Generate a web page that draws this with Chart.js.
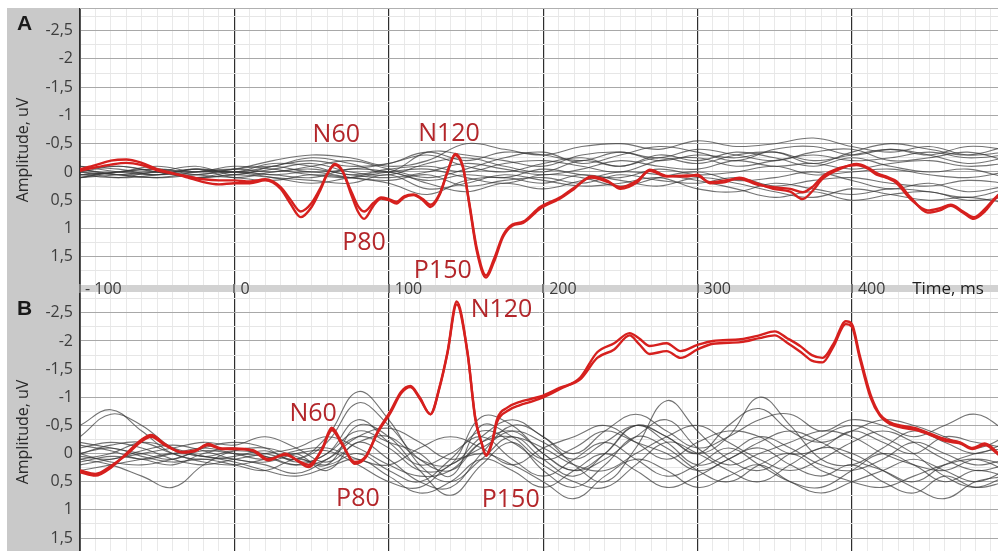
<!DOCTYPE html>
<html>
<head>
<meta charset="utf-8">
<script src="https://cdn.jsdelivr.net/npm/chart.js@4.4.1/dist/chart.umd.min.js"></script>
<style>
  html,body{margin:0;padding:0;background:#fff;}
  #wrap{position:relative;width:998px;height:551px;overflow:hidden;background:#fff;}
  #side{position:absolute;left:7px;top:8px;width:73px;height:543px;background:#c9c9c9;}
  #cB{position:absolute;left:0;top:290px;}
  #cA{position:absolute;left:0;top:0;}
</style>
</head>
<body>
<div id="wrap">
  <div id="side"></div>
  <canvas id="cB" width="998" height="261"></canvas>
  <canvas id="cA" width="998" height="300"></canvas>
</div>
<script>
// ---------------- DATA ----------------
const xTickLabels = ["- 100", "0", "100", "200", "300", "400"];
const xTickValues = [-100, 0, 100, 200, 300, 400];
const xAxisTitle = "Time, ms";
const yAxisTitle = "Amplitude, uV";

// Panel A, red (target) traces
const tRedA = [-100,-90,-80,-70,-60,-50,-40,-30,-20,-10,0,10,20,30,36,43,50,56,60,65,70,75,80,84,90,95,100,105,110,116,122,127,133,138,143,148,152,157,163,168,174,180,187,198,211,220,231,242,250,261,269,280,293,300,308,318,327,338,349,360,368,375,381,392,403,410,416,422,429,438,449,457,464,472,479,486,492,495];
const redA1 = [-0.05,-0.12,-0.2,-0.22,-0.16,-0.05,0.02,0.1,0.18,0.22,0.2,0.2,0.15,0.3,0.55,0.8,0.62,0.3,0.05,-0.14,-0.02,0.35,0.7,0.83,0.6,0.47,0.5,0.56,0.45,0.41,0.5,0.62,0.4,0.0,-0.32,-0.1,0.55,1.4,1.87,1.6,1.15,0.95,0.9,0.65,0.47,0.3,0.08,0.16,0.3,0.18,-0.04,0.07,0.08,0.05,0.2,0.18,0.1,0.2,0.3,0.35,0.48,0.32,0.12,-0.05,-0.14,-0.08,0.02,0.08,0.17,0.45,0.72,0.68,0.6,0.72,0.83,0.7,0.5,0.42];
const redA2 = [-0.02,-0.08,-0.13,-0.16,-0.12,-0.03,0.03,0.08,0.13,0.15,0.15,0.17,0.13,0.27,0.48,0.7,0.55,0.27,0.04,-0.12,-0.01,0.3,0.6,0.7,0.55,0.45,0.48,0.53,0.43,0.4,0.48,0.58,0.38,0.0,-0.3,-0.08,0.52,1.35,1.83,1.55,1.12,0.93,0.88,0.62,0.45,0.28,0.1,0.18,0.27,0.15,-0.02,0.08,0.06,0.07,0.18,0.15,0.12,0.22,0.27,0.3,0.36,0.25,0.08,-0.07,-0.12,-0.06,0.05,0.1,0.2,0.48,0.68,0.64,0.58,0.7,0.8,0.66,0.48,0.4];

// Panel B, red (target) traces
const tRedB = [-100,-90,-80,-70,-60,-54,-45,-34,-25,-17,-8,0,12,22,33,42,48,57,63,70,78,85,93,101,108,114,120,127,133,138,144,151,156,160,163,167,170,177,185,192,200,211,224,235,246,256,262,269,280,289,300,310,328,340,350,358,367,374,381,388,396,400,405,412,418,425,431,441,451,461,470,478,486,495];
const redB1 = [0.33,0.39,0.25,0.0,-0.25,-0.33,-0.17,-0.02,-0.05,-0.17,-0.09,-0.09,-0.05,0.12,0.0,0.15,0.24,-0.1,-0.46,-0.17,0.18,0.07,-0.4,-0.75,-1.1,-1.2,-1.0,-0.7,-1.2,-1.8,-2.7,-1.8,-0.64,-0.2,0.04,-0.2,-0.55,-0.76,-0.86,-0.92,-1.0,-1.15,-1.35,-1.8,-1.96,-2.14,-2.05,-1.91,-1.96,-1.82,-1.93,-2.0,-2.03,-2.1,-2.17,-2.05,-1.9,-1.75,-1.7,-1.95,-2.35,-2.3,-1.75,-1.05,-0.7,-0.55,-0.5,-0.45,-0.35,-0.25,-0.2,-0.1,-0.18,0.0];
const redB2 = [0.3,0.36,0.22,0.02,-0.22,-0.3,-0.15,-0.03,-0.06,-0.15,-0.08,-0.08,-0.06,0.1,0.02,0.14,0.2,-0.08,-0.42,-0.15,0.15,0.05,-0.38,-0.72,-1.07,-1.18,-0.98,-0.7,-1.18,-1.78,-2.65,-1.78,-0.62,-0.2,0.02,-0.22,-0.6,-0.82,-0.92,-0.97,-1.03,-1.17,-1.32,-1.7,-1.85,-2.1,-1.95,-1.77,-1.82,-1.7,-1.85,-1.95,-1.98,-2.05,-2.1,-1.97,-1.8,-1.65,-1.62,-1.9,-2.3,-2.25,-1.7,-1.0,-0.68,-0.52,-0.47,-0.42,-0.33,-0.22,-0.18,-0.08,-0.15,0.02];

// Panel A, grey (other) traces, sampled every 25 ms
const tGreyA = [-100,-75,-50,-25,0,25,50,75,100,125,150,175,200,225,250,275,300,325,350,375,400,425,450,475,500];
const greyA = [
  [0.05,0.0,-0.1,0.0,-0.05,-0.2,-0.3,-0.25,-0.1,-0.2,-0.5,-0.4,-0.3,-0.45,-0.5,-0.4,-0.55,-0.45,-0.5,-0.6,-0.45,-0.35,-0.45,-0.3,-0.35],
  [-0.1,-0.05,0.05,-0.05,0.0,-0.1,-0.25,-0.15,0.0,-0.35,-0.3,-0.2,-0.1,-0.3,-0.35,-0.25,-0.4,-0.3,-0.2,-0.35,-0.4,-0.2,-0.25,-0.35,-0.2],
  [0.1,0.05,0.0,0.1,0.05,-0.05,-0.15,0.0,0.05,-0.15,-0.25,-0.1,0.0,-0.2,-0.1,-0.25,-0.15,-0.3,-0.35,-0.2,-0.3,-0.4,-0.3,-0.15,-0.25],
  [0.0,0.1,0.05,-0.05,0.1,0.0,-0.05,0.05,0.1,0.0,-0.15,-0.05,0.05,-0.05,-0.2,-0.1,-0.05,-0.2,-0.1,-0.15,-0.05,-0.15,-0.2,-0.1,-0.15],
  [-0.05,0.05,0.1,0.05,0.0,0.05,0.1,-0.05,0.0,0.15,0.05,0.1,-0.05,0.05,0.1,-0.05,0.05,0.0,-0.1,0.05,0.0,-0.05,0.05,0.1,0.0],
  [0.1,0.0,-0.05,0.05,0.1,0.15,0.05,0.1,0.15,0.05,0.25,0.15,0.1,0.2,0.05,0.15,0.2,0.1,0.25,0.15,0.1,0.2,0.25,0.15,0.2],
  [0.05,0.1,0.0,0.1,0.05,0.1,0.15,0.2,0.05,0.3,0.2,0.05,0.15,0.25,0.2,0.1,0.3,0.35,0.2,0.3,0.4,0.3,0.35,0.45,0.3],
  [-0.1,0.0,0.05,-0.05,0.0,-0.15,-0.1,0.05,-0.05,-0.1,0.0,-0.15,-0.2,-0.1,0.0,-0.2,-0.25,-0.1,-0.2,-0.3,-0.2,-0.25,-0.35,-0.25,-0.3],
  [0.0,-0.1,0.0,0.1,0.0,0.05,0.0,0.1,0.2,0.4,0.15,0.1,0.2,0.05,0.15,0.25,0.1,0.2,0.35,0.45,0.3,0.4,0.5,0.45,0.55],
  [0.05,0.0,-0.05,0.0,-0.1,-0.05,0.05,0.1,0.0,-0.05,0.1,0.2,0.05,0.1,0.25,0.1,0.0,0.15,0.1,0.0,0.15,0.3,0.2,0.35,0.25],
  [-0.05,0.05,0.0,-0.1,0.05,-0.1,-0.2,-0.1,-0.15,-0.3,-0.1,0.0,-0.15,-0.25,-0.1,-0.3,-0.2,-0.35,-0.25,-0.1,-0.25,-0.1,0.0,-0.05,0.1],
  [0.0,0.05,0.1,0.0,-0.05,0.0,-0.1,-0.2,-0.05,0.1,-0.05,-0.25,-0.35,-0.15,-0.3,-0.45,-0.35,-0.2,-0.4,-0.45,-0.3,-0.4,-0.3,-0.45,-0.4],
  [0.1,0.0,0.05,0.0,0.0,0.1,0.2,0.1,0.0,0.2,0.35,0.2,0.3,0.15,0.0,0.05,0.15,0.3,0.45,0.35,0.5,0.4,0.35,0.5,0.45],
  [-0.05,-0.1,0.0,0.05,-0.05,-0.1,0.0,-0.05,-0.15,-0.35,-0.2,-0.35,-0.3,-0.2,-0.35,-0.2,-0.3,-0.25,-0.35,-0.15,-0.35,-0.5,-0.4,-0.3,-0.45]
];

// Panel B, grey (other) traces, sampled every 20 ms
const tGreyB = [-100,-80,-60,-40,-20,0,20,40,60,80,100,120,140,160,180,200,220,240,260,280,300,320,340,360,380,400,420,440,460,480,500];
const greyB = [
  [-0.5,-0.78,-0.4,0.0,0.1,0.05,-0.05,0.1,-0.3,-1.1,-0.6,0.2,0.5,0.1,-0.3,0.1,0.4,0.0,-0.5,-0.2,0.2,0.0,-0.3,-0.1,0.2,0.3,0.1,-0.2,0.0,0.2,0.1],
  [-0.3,-0.7,-0.5,-0.1,0.05,-0.05,0.0,0.1,-0.2,-0.9,-0.5,0.1,0.3,-0.2,-0.4,0.0,0.3,0.1,-0.3,-0.6,-0.1,0.2,0.0,-0.2,-0.4,-0.3,0.0,0.2,0.3,0.1,0.2],
  [0.1,0.2,0.4,0.6,0.2,-0.05,-0.1,0.05,0.2,-0.5,-0.3,0.3,0.74,0.2,-0.2,0.3,0.6,0.2,-0.3,-0.1,0.3,0.5,0.2,0.0,0.3,0.5,0.6,0.4,0.2,0.1,0.3],
  [0.0,-0.15,-0.2,0.0,0.15,0.2,0.1,0.0,0.3,-0.2,0.1,0.5,0.6,0.0,-0.5,-0.3,0.2,0.5,-0.1,-0.94,-0.4,0.1,0.3,0.0,-0.3,-0.5,-0.3,0.0,0.4,0.6,0.4],
  [0.1,0.0,-0.2,-0.1,0.05,0.1,0.2,0.35,0.1,-0.3,-0.1,0.3,0.2,-0.65,-0.5,0.0,0.3,0.0,-0.5,-0.3,0.0,-0.3,-1.0,-0.5,0.1,0.2,-0.1,-0.4,-0.2,0.0,-0.2],
  [0.15,0.05,0.1,0.2,0.0,-0.1,0.05,0.2,0.0,-0.4,-0.2,0.0,0.4,-0.5,-0.3,0.1,-0.1,-0.4,-0.2,0.0,0.3,0.1,-0.2,-0.4,-0.2,0.1,0.3,0.5,0.2,0.0,-0.1],
  [-0.1,-0.2,-0.1,0.1,0.2,0.1,0.0,-0.1,-0.3,-0.1,0.2,0.4,0.3,-0.2,-0.3,-0.1,0.2,0.3,0.0,-0.3,-0.5,-0.2,0.1,0.3,0.1,-0.2,-0.4,-0.2,0.1,0.3,0.2],
  [0.0,-0.1,0.05,0.15,0.1,0.2,0.3,0.1,0.2,0.0,0.3,0.5,0.1,-0.4,-0.2,0.2,0.5,0.6,0.2,-0.2,0.0,0.3,0.5,0.2,-0.1,0.0,0.3,0.6,0.8,0.5,0.4],
  [0.2,0.1,0.0,-0.1,-0.2,-0.15,-0.3,-0.1,0.15,-0.2,-0.3,0.1,0.2,-0.3,-0.6,-0.3,0.0,-0.4,-0.7,-0.4,-0.1,-0.3,-0.6,-0.7,-0.4,-0.6,-0.5,-0.3,-0.5,-0.7,-0.4],
  [-0.2,-0.1,0.0,0.1,-0.1,-0.2,-0.1,0.15,0.0,-0.6,-0.2,0.2,0.0,-0.3,0.1,0.4,0.1,-0.2,0.1,0.4,0.2,-0.1,0.2,0.5,0.6,0.3,0.0,0.2,0.5,0.3,0.4],
  [0.05,0.1,-0.05,-0.15,-0.05,0.1,0.15,0.0,-0.05,0.2,0.5,0.6,0.2,0.0,0.2,0.5,0.8,0.4,0.1,0.3,0.6,0.4,0.2,0.5,0.7,0.5,0.3,0.1,0.3,0.5,0.3],
  [-0.15,-0.05,0.1,0.0,-0.1,0.0,0.1,-0.05,-0.1,0.1,0.2,-0.1,-0.3,-0.1,0.2,-0.1,-0.3,-0.5,-0.2,0.1,-0.2,-0.4,-0.3,0.0,-0.1,-0.4,-0.2,0.0,-0.3,-0.2,-0.1],
  [0.3,0.2,0.1,0.0,0.05,0.15,0.3,0.4,0.25,0.1,0.4,0.7,0.5,0.1,0.3,0.6,0.3,0.0,0.3,0.6,0.4,0.1,-0.1,0.2,0.4,0.2,0.5,0.7,0.4,0.6,0.5],
  [0.0,0.15,0.2,0.1,-0.05,0.0,0.05,0.2,0.1,-0.3,-0.45,-0.2,0.1,-0.1,-0.4,-0.2,0.1,-0.2,-0.5,-0.3,0.0,-0.5,-0.8,-0.4,-0.2,-0.4,-0.6,-0.5,-0.3,-0.1,-0.3]
];

// Peak annotations: [text, time (ms), amplitude (uV)]
const peakLabelsA = [["N60", 66, -0.65], ["N120", 139, -0.67], ["P80", 84, 1.25], ["P150", 135, 1.75]];
const peakLabelsB = [["N120", 173, -2.56], ["N60", 51, -0.71], ["P80", 80, 0.8], ["P150", 179, 0.83]];

// ---------------- STYLE / BUILD ----------------
const FONT = "'Open Sans', 'DejaVu Sans', sans-serif";
const RED = "rgb(214,32,30)";
const LABEL_RED = "#b3262a";
const GREY = "rgba(55,55,55,0.7)";

function pts(t, v) { return t.map((x, i) => ({ x: x, y: v[i] })); }

function buildDatasets(tR, r1, r2, tG, greys) {
  const ds = [];
  ds.push({ data: pts(tR, r1), borderColor: RED, borderWidth: 2.4, pointRadius: 0, cubicInterpolationMode: 'monotone', fill: false });
  ds.push({ data: pts(tR, r2), borderColor: RED, borderWidth: 2.4, pointRadius: 0, cubicInterpolationMode: 'monotone', fill: false });
  greys.forEach(g => ds.push({ data: pts(tG, g), borderColor: GREY, borderWidth: 1.1, pointRadius: 0, tension: 0.4, fill: false }));
  return ds;
}

function fmt(v) { return String(v).replace('.', ','); }
function isHalf(v) { return Math.abs(v * 2 - Math.round(v * 2)) < 1e-6; }

function makeScales(yMin, yMax) {
  return {
    x: {
      type: 'linear', min: -100, max: 494.6,
      afterBuildTicks: s => { const a = []; for (let v = -100; v <= 490; v += 10) a.push({ value: v }); s.ticks = a; },
      afterFit: s => { s.height = 0; s.paddingLeft = 0; s.paddingRight = 0; s.paddingTop = 0; s.paddingBottom = 0; },
      ticks: { display: false },
      grid: {
        drawTicks: false,
        color: c => (Math.round(c.tick.value) % 100 === 0) ? '#2e2e2e' : '#e9e9e9',
        lineWidth: c => (Math.round(c.tick.value) % 100 === 0) ? 1.2 : 1
      },
      border: { display: false }
    },
    y: {
      type: 'linear', reverse: true, min: yMin, max: yMax,
      afterBuildTicks: s => { const a = []; for (let v = -2.75; v <= Math.min(yMax, 1.75) + 1e-9; v += 0.25) a.push({ value: Math.round(v * 100) / 100 }); s.ticks = a; },
      afterFit: s => { s.width = 80; s.paddingTop = 0; s.paddingBottom = 0; s.paddingLeft = 0; s.paddingRight = 0; },
      ticks: {
        autoSkip: false, padding: 7, color: '#3d3d3d',
        font: { family: FONT, size: 16 },
        callback: v => (isHalf(v) && v <= 1.5) ? fmt(v) : ''
      },
      grid: {
        drawTicks: false,
        color: c => isHalf(c.tick.value) ? '#a8a8a8' : '#e6e6e6'
      },
      border: { display: true, color: '#555', width: 1 }
    }
  };
}

function decorPlugin(letter, letterY, titleCenterY, labels, drawBand) {
  return {
    id: 'decor' + letter,
    afterDraw(chart) {
      const ctx = chart.ctx, xs = chart.scales.x, ys = chart.scales.y, ca = chart.chartArea;
      ctx.save();
      if (drawBand) {
        ctx.strokeStyle = '#b0b0b0'; ctx.lineWidth = 1;
        ctx.beginPath(); ctx.moveTo(ca.left, ca.top + 0.5); ctx.lineTo(ca.right, ca.top + 0.5); ctx.stroke();
        ctx.fillStyle = '#d2d2d2';
        ctx.fillRect(ca.left, 285, ca.right - ca.left, 7);
        ctx.font = "16px " + FONT;
        ctx.textBaseline = 'middle'; ctx.textAlign = 'left';
        xTickValues.forEach((v, i) => {
          const px = xs.getPixelForValue(v);
          ctx.fillStyle = '#777'; ctx.fillRect(Math.round(px) - 1, 284, 2, 9);
          ctx.fillStyle = '#3d3d3d';
          ctx.fillText(xTickLabels[i], px + (i === 0 ? 5 : 6), 289);
        });
        ctx.fillStyle = '#1e1e1e';
        ctx.font = "17px " + FONT;
        ctx.fillText(xAxisTitle, xs.getPixelForValue(439), 289);
      }
      ctx.fillStyle = '#1a1a1a';
      ctx.font = "bold 21px 'Liberation Sans', Arial, sans-serif";
      ctx.textAlign = 'left'; ctx.textBaseline = 'alphabetic';
      ctx.fillText(letter, 17, letterY);
      ctx.save();
      ctx.translate(23, titleCenterY);
      ctx.rotate(-Math.PI / 2);
      ctx.textAlign = 'center'; ctx.textBaseline = 'middle';
      ctx.fillStyle = '#2a2a2a';
      ctx.font = "16px " + FONT;
      ctx.fillText(yAxisTitle, 0, 0);
      ctx.restore();
      ctx.fillStyle = LABEL_RED;
      ctx.font = "25px " + FONT;
      ctx.textAlign = 'center'; ctx.textBaseline = 'middle';
      labels.forEach(l => ctx.fillText(l[0], xs.getPixelForValue(l[1]), ys.getPixelForValue(l[2])));
      ctx.restore();
    }
  };
}

function makeChart(id, datasets, yMin, yMax, padding, plugin) {
  return new Chart(document.getElementById(id), {
    type: 'line',
    data: { datasets: datasets },
    options: {
      responsive: false, animation: false, devicePixelRatio: 1,
      layout: { padding: padding },
      scales: makeScales(yMin, yMax),
      plugins: { legend: { display: false }, tooltip: { enabled: false } }
    },
    plugins: [plugin]
  });
}

makeChart('cB', buildDatasets(tRedB, redB1, redB2, tGreyB, greyB), -2.87, 1.73,
  { top: 2, bottom: 0, left: 0, right: 0 },
  decorPlugin('B', 25, 142, peakLabelsB, false));

makeChart('cA', buildDatasets(tRedA, redA1, redA2, tGreyA, greyA), -2.9, 2.0,
  { top: 8, bottom: 15, left: 0, right: 0 },
  decorPlugin('A', 30, 150, peakLabelsA, true));
</script>
</body>
</html>
